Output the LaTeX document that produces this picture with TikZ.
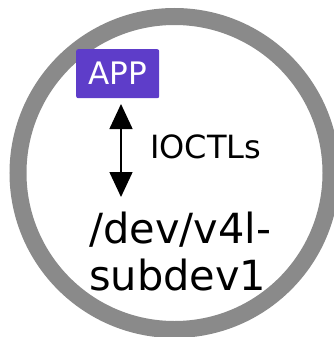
\documentclass[tikz,border=0pt]{standalone}
\usepackage{fontspec}
\setmainfont{DejaVu Sans}
\usetikzlibrary{arrows.meta}
\definecolor{ringgray}{HTML}{8A8A8A}
\definecolor{apppurple}{HTML}{5E3DC9}
\begin{document}
\begin{tikzpicture}[x=1pt,y=-1pt,
  ring/.style={draw=ringgray,line width=17pt},
  appbox/.style={fill=apppurple,rounded corners=2pt,text=white,inner sep=0pt,
    minimum width=83pt,minimum height=49pt,font=\fontsize{31}{36}\selectfont},
  label/.style={inner sep=0pt,font=\fontsize{32}{37}\selectfont},
  devtext/.style={inner sep=0pt,align=left,font=\fontsize{41.5}{47}\selectfont},
  link/.style={line width=1.5pt,{Triangle[length=25pt,width=23pt]}-{Triangle[length=25pt,width=23pt]}}]
  \useasboundingbox (0,0) rectangle (333,337);
  % device ring
  \draw[ring] (174.5,173) circle[radius=156.5];
  % application box and device node (base anchor sits on the last line)
  \node[appbox] (app) at (117.7,73.7) {APP};
  \node[devtext,anchor=base west] (dev) at (89,290) {/dev/v4l-\\subdev1};
  % ioctl link between them
  \coordinate (top) at (121,104);
  \coordinate (bot) at (121,197);
  \draw[link] (top) -- (bot);
  \node[label,anchor=base west] (ioctl) at (150,158) {IOCTLs};
\end{tikzpicture}
\end{document}
